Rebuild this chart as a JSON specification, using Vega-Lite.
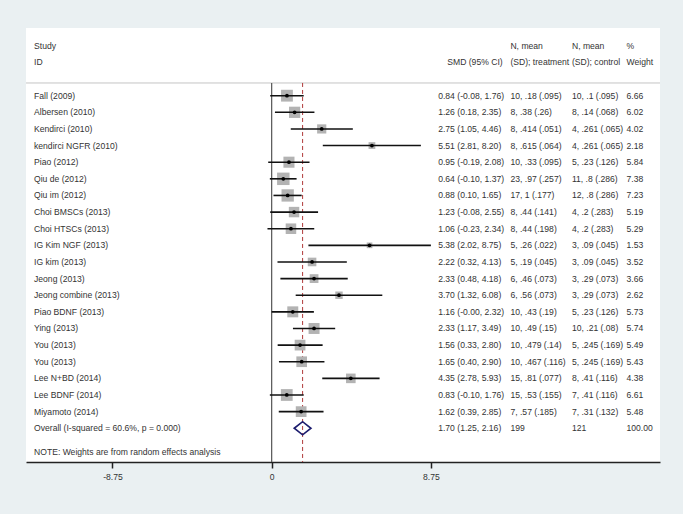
{
  "$schema": "https://vega.github.io/schema/vega-lite/v6.json",
  "width": 634,
  "height": 434,
  "autosize": {"type": "none"},
  "padding": {"left": 26, "top": 28, "right": 23, "bottom": 52},
  "background": "#eaf0f2",
  "config": {
    "view": {"fill": "white", "stroke": null},
    "font": "Liberation Sans",
    "text": {"font": "Liberation Sans", "fontSize": 8.6, "color": "#333333", "align": "left", "baseline": "middle"}
  },
  "datasets": {
    "rows": [
      {"id": -2, "kind": "header", "study": "Study", "smd_text": "", "treat": "N, mean", "ctrl": "N, mean", "weight_text": "%"},
      {"id": -1, "kind": "header", "study": "ID", "smd_text": "", "treat": "(SD); treatment", "ctrl": "(SD); control", "weight_text": "Weight"},
      {"id": 1, "kind": "study", "study": "Fall  (2009)", "est": 0.84, "lo": -0.08, "hi": 1.76, "weight": 6.66, "smd_text": "0.84 (-0.08, 1.76)", "treat": "10, .18 (.095)", "ctrl": "10, .1 (.095)", "weight_text": "6.66"},
      {"id": 2, "kind": "study", "study": "Albersen  (2010)", "est": 1.26, "lo": 0.18, "hi": 2.35, "weight": 6.02, "smd_text": "1.26 (0.18, 2.35)", "treat": "8, .38 (.26)", "ctrl": "8, .14 (.068)", "weight_text": "6.02"},
      {"id": 3, "kind": "study", "study": "Kendirci  (2010)", "est": 2.75, "lo": 1.05, "hi": 4.46, "weight": 4.02, "smd_text": "2.75 (1.05, 4.46)", "treat": "8, .414 (.051)", "ctrl": "4, .261 (.065)", "weight_text": "4.02"},
      {"id": 4, "kind": "study", "study": "kendirci NGFR (2010)", "est": 5.51, "lo": 2.81, "hi": 8.20, "weight": 2.18, "smd_text": "5.51 (2.81, 8.20)", "treat": "8, .615 (.064)", "ctrl": "4, .261 (.065)", "weight_text": "2.18"},
      {"id": 5, "kind": "study", "study": "Piao  (2012)", "est": 0.95, "lo": -0.19, "hi": 2.08, "weight": 5.84, "smd_text": "0.95 (-0.19, 2.08)", "treat": "10, .33 (.095)", "ctrl": "5, .23 (.126)", "weight_text": "5.84"},
      {"id": 6, "kind": "study", "study": "Qiu de (2012)", "est": 0.64, "lo": -0.10, "hi": 1.37, "weight": 7.38, "smd_text": "0.64 (-0.10, 1.37)", "treat": "23, .97 (.257)", "ctrl": "11, .8 (.286)", "weight_text": "7.38"},
      {"id": 7, "kind": "study", "study": "Qiu im (2012)", "est": 0.88, "lo": 0.10, "hi": 1.65, "weight": 7.23, "smd_text": "0.88 (0.10, 1.65)", "treat": "17, 1 (.177)", "ctrl": "12, .8 (.286)", "weight_text": "7.23"},
      {"id": 8, "kind": "study", "study": "Choi BMSCs (2013)", "est": 1.23, "lo": -0.08, "hi": 2.55, "weight": 5.19, "smd_text": "1.23 (-0.08, 2.55)", "treat": "8, .44 (.141)", "ctrl": "4, .2 (.283)", "weight_text": "5.19"},
      {"id": 9, "kind": "study", "study": "Choi HTSCs (2013)", "est": 1.06, "lo": -0.23, "hi": 2.34, "weight": 5.29, "smd_text": "1.06 (-0.23, 2.34)", "treat": "8, .44 (.198)", "ctrl": "4, .2 (.283)", "weight_text": "5.29"},
      {"id": 10, "kind": "study", "study": "IG Kim NGF (2013)", "est": 5.38, "lo": 2.02, "hi": 8.75, "weight": 1.53, "smd_text": "5.38 (2.02, 8.75)", "treat": "5, .26 (.022)", "ctrl": "3, .09 (.045)", "weight_text": "1.53"},
      {"id": 11, "kind": "study", "study": "IG kim (2013)", "est": 2.22, "lo": 0.32, "hi": 4.13, "weight": 3.52, "smd_text": "2.22 (0.32, 4.13)", "treat": "5, .19 (.045)", "ctrl": "3, .09 (.045)", "weight_text": "3.52"},
      {"id": 12, "kind": "study", "study": "Jeong (2013)", "est": 2.33, "lo": 0.48, "hi": 4.18, "weight": 3.66, "smd_text": "2.33 (0.48, 4.18)", "treat": "6, .46 (.073)", "ctrl": "3, .29 (.073)", "weight_text": "3.66"},
      {"id": 13, "kind": "study", "study": "Jeong combine (2013)", "est": 3.70, "lo": 1.32, "hi": 6.08, "weight": 2.62, "smd_text": "3.70 (1.32, 6.08)", "treat": "6, .56 (.073)", "ctrl": "3, .29 (.073)", "weight_text": "2.62"},
      {"id": 14, "kind": "study", "study": "Piao BDNF (2013)", "est": 1.16, "lo": -0.00, "hi": 2.32, "weight": 5.73, "smd_text": "1.16 (-0.00, 2.32)", "treat": "10, .43 (.19)", "ctrl": "5, .23 (.126)", "weight_text": "5.73"},
      {"id": 15, "kind": "study", "study": "Ying  (2013)", "est": 2.33, "lo": 1.17, "hi": 3.49, "weight": 5.74, "smd_text": "2.33 (1.17, 3.49)", "treat": "10, .49 (.15)", "ctrl": "10, .21 (.08)", "weight_text": "5.74"},
      {"id": 16, "kind": "study", "study": "You  (2013)", "est": 1.56, "lo": 0.33, "hi": 2.80, "weight": 5.49, "smd_text": "1.56 (0.33, 2.80)", "treat": "10, .479 (.14)", "ctrl": "5, .245 (.169)", "weight_text": "5.49"},
      {"id": 17, "kind": "study", "study": "You  (2013)", "est": 1.65, "lo": 0.40, "hi": 2.90, "weight": 5.43, "smd_text": "1.65 (0.40, 2.90)", "treat": "10, .467 (.116)", "ctrl": "5, .245 (.169)", "weight_text": "5.43"},
      {"id": 18, "kind": "study", "study": "Lee  N+BD (2014)", "est": 4.35, "lo": 2.78, "hi": 5.93, "weight": 4.38, "smd_text": "4.35 (2.78, 5.93)", "treat": "15, .81 (.077)", "ctrl": "8, .41 (.116)", "weight_text": "4.38"},
      {"id": 19, "kind": "study", "study": "Lee BDNF (2014)", "est": 0.83, "lo": -0.10, "hi": 1.76, "weight": 6.61, "smd_text": "0.83 (-0.10, 1.76)", "treat": "15, .53 (.155)", "ctrl": "7, .41 (.116)", "weight_text": "6.61"},
      {"id": 20, "kind": "study", "study": "Miyamoto (2014)", "est": 1.62, "lo": 0.39, "hi": 2.85, "weight": 5.48, "smd_text": "1.62 (0.39, 2.85)", "treat": "7, .57 (.185)", "ctrl": "7, .31 (.132)", "weight_text": "5.48"},
      {"id": 21, "kind": "overall", "study": "Overall  (I-squared = 60.6%, p = 0.000)", "est": 1.70, "lo": 1.25, "hi": 2.16, "weight": 100, "smd_text": "1.70 (1.25, 2.16)", "treat": "199", "ctrl": "121", "weight_text": "100.00"}
    ]
  },
  "data": {"name": "rows"},
  "layer": [
    {
      "data": {"values": [{}]},
      "mark": {"type": "rule", "color": "#c4c4c4", "strokeWidth": 1},
      "encoding": {
        "y": {"datum": 0.236, "type": "quantitative", "scale": {"domain": [-3.07, 23.03], "reverse": true, "nice": false, "zero": false}, "axis": null}
      }
    },
    {
      "data": {"values": [{}]},
      "mark": {"type": "rule", "color": "#555555", "strokeWidth": 1.2},
      "encoding": {
        "x": {"datum": 0, "type": "quantitative", "scale": {"domain": [-13.5, 21.34], "nice": false, "zero": false},
              "axis": {"title": null, "values": [-8.75, 0, 8.75], "labelExpr": "'' + datum.value", "grid": false,
                       "domainColor": "#222222", "domainWidth": 1.5, "tickColor": "#222222", "tickWidth": 1.5, "tickSize": 6,
                       "labelFont": "Liberation Sans", "labelFontSize": 8.6, "labelColor": "#333333", "labelPadding": 4, "labelFlush": false}},
        "y": {"datum": 0.236, "type": "quantitative", "axis": null},
        "y2": {"datum": 23.03}
      }
    },
    {
      "transform": [{"filter": "datum.kind == 'overall'"}],
      "mark": {"type": "rule", "color": "#b03a3a", "strokeWidth": 1, "strokeDash": [4, 3]},
      "encoding": {
        "x": {"field": "est", "type": "quantitative"},
        "y": {"datum": 0.236, "type": "quantitative", "axis": null},
        "y2": {"datum": 23.03}
      }
    },
    {
      "transform": [{"filter": "datum.kind == 'study'"}],
      "mark": {"type": "point", "shape": "square", "filled": true, "color": "#b3b3b3", "opacity": 1},
      "encoding": {
        "x": {"field": "est", "type": "quantitative"},
        "y": {"field": "id", "type": "quantitative", "axis": null},
        "size": {"field": "weight", "type": "quantitative", "scale": {"type": "linear", "domain": [0, 10], "range": [0, 210]}, "legend": null}
      }
    },
    {
      "transform": [{"filter": "datum.kind == 'study'"}],
      "mark": {"type": "rule", "color": "#111111", "strokeWidth": 1.6},
      "encoding": {
        "x": {"field": "lo", "type": "quantitative"},
        "x2": {"field": "hi"},
        "y": {"field": "id", "type": "quantitative", "axis": null}
      }
    },
    {
      "transform": [{"filter": "datum.kind == 'study'"}],
      "mark": {"type": "point", "shape": "circle", "filled": true, "color": "#000000", "size": 14, "opacity": 1},
      "encoding": {
        "x": {"field": "est", "type": "quantitative"},
        "y": {"field": "id", "type": "quantitative", "axis": null}
      }
    },
    {
      "transform": [{"filter": "datum.kind == 'overall'"}],
      "mark": {"type": "point", "shape": "M-1,0L0,-0.78L1,0L0,0.78Z", "filled": false, "stroke": "#1c1c6e", "strokeWidth": 1.6, "size": 280, "opacity": 1},
      "encoding": {
        "x": {"field": "est", "type": "quantitative"},
        "y": {"field": "id", "type": "quantitative", "axis": null}
      }
    },
    {
      "mark": {"type": "text"},
      "encoding": {
        "x": {"datum": -13.06, "type": "quantitative"},
        "y": {"field": "id", "type": "quantitative", "axis": null},
        "text": {"field": "study"}
      }
    },
    {
      "mark": {"type": "text"},
      "encoding": {
        "x": {"datum": 9.15, "type": "quantitative"},
        "y": {"field": "id", "type": "quantitative", "axis": null},
        "text": {"field": "smd_text"}
      }
    },
    {
      "data": {"values": [{}]},
      "mark": {"type": "text"},
      "encoding": {
        "x": {"datum": 9.65, "type": "quantitative"},
        "y": {"datum": -1, "type": "quantitative", "axis": null},
        "text": {"value": "SMD (95% CI)"}
      }
    },
    {
      "mark": {"type": "text"},
      "encoding": {
        "x": {"datum": 13.12, "type": "quantitative"},
        "y": {"field": "id", "type": "quantitative", "axis": null},
        "text": {"field": "treat"}
      }
    },
    {
      "mark": {"type": "text"},
      "encoding": {
        "x": {"datum": 16.5, "type": "quantitative"},
        "y": {"field": "id", "type": "quantitative", "axis": null},
        "text": {"field": "ctrl"}
      }
    },
    {
      "mark": {"type": "text"},
      "encoding": {
        "x": {"datum": 19.5, "type": "quantitative"},
        "y": {"field": "id", "type": "quantitative", "axis": null},
        "text": {"field": "weight_text"}
      }
    },
    {
      "data": {"values": [{}]},
      "mark": {"type": "text"},
      "encoding": {
        "x": {"datum": -13.06, "type": "quantitative"},
        "y": {"datum": 22.42, "type": "quantitative", "axis": null},
        "text": {"value": "NOTE: Weights are from random effects analysis"}
      }
    }
  ]
}
